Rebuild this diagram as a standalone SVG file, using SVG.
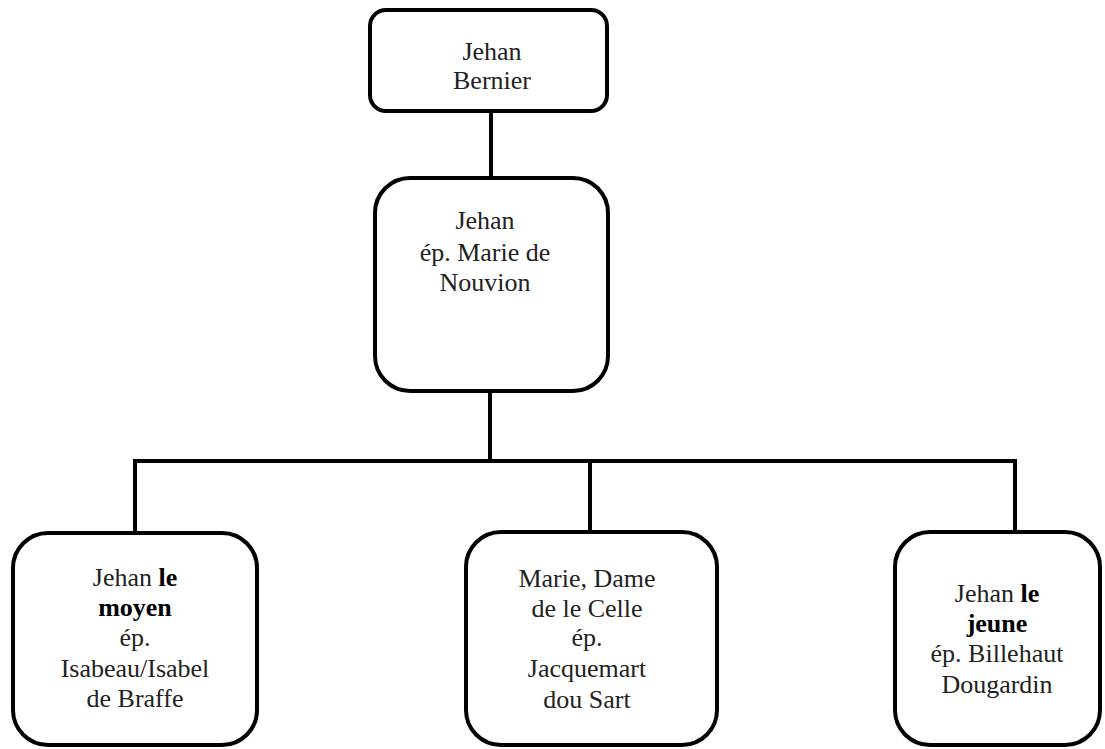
<svg xmlns="http://www.w3.org/2000/svg" width="1105" height="749" viewBox="0 0 1105 749">
<style>
.box{fill:#fff;stroke:#000;stroke-width:4}
.t{font-family:'Liberation Serif','Times New Roman',serif;font-size:26px;fill:#222;text-anchor:middle}
.b{font-weight:bold;fill:#000}
.c{stroke:#000;stroke-width:4;fill:none}
</style>
<rect width="1105" height="749" fill="#fff"/>
<g id="connectors">
<line class="c" x1="491" y1="111" x2="491" y2="178"/>
<line class="c" x1="490" y1="391" x2="490" y2="461"/>
<line class="c" x1="133" y1="461" x2="1017" y2="461" stroke-width="5"/>
<line class="c" x1="135" y1="461" x2="135" y2="533"/>
<line class="c" x1="590" y1="461" x2="590" y2="532"/>
<line class="c" x1="1015" y1="461" x2="1015" y2="532"/>
</g>
<g id="n1">
<rect class="box" x="370" y="10" width="237" height="101" rx="16"/>
<text class="t" x="492" y="60">Jehan</text>
<text class="t" x="492" y="89">Bernier</text>
</g>
<g id="n2">
<rect class="box" x="375" y="178" width="233" height="213" rx="35"/>
<text class="t" x="485" y="229">Jehan</text>
<text class="t" x="485" y="261">ép. Marie de</text>
<text class="t" x="485" y="291">Nouvion</text>
</g>
<g id="n3">
<rect class="box" x="13" y="533" width="244" height="212" rx="35"/>
<text class="t" x="135" y="586">Jehan <tspan class="b">le</tspan></text>
<text class="t b" x="135" y="616">moyen</text>
<text class="t" x="135" y="646">ép.</text>
<text class="t" x="135" y="677">Isabeau/Isabel</text>
<text class="t" x="135" y="707">de Braffe</text>
</g>
<g id="n4">
<rect class="box" x="466" y="532" width="251" height="213" rx="35"/>
<text class="t" x="587" y="587">Marie, Dame</text>
<text class="t" x="587" y="617">de le Celle</text>
<text class="t" x="587" y="646">ép.</text>
<text class="t" x="587" y="677">Jacquemart</text>
<text class="t" x="587" y="708">dou Sart</text>
</g>
<g id="n5">
<rect class="box" x="895" y="532" width="205" height="213" rx="35"/>
<text class="t" x="997" y="602">Jehan <tspan class="b">le</tspan></text>
<text class="t b" x="997" y="632">jeune</text>
<text class="t" x="997" y="662">ép. Billehaut</text>
<text class="t" x="997" y="693">Dougardin</text>
</g>
</svg>
